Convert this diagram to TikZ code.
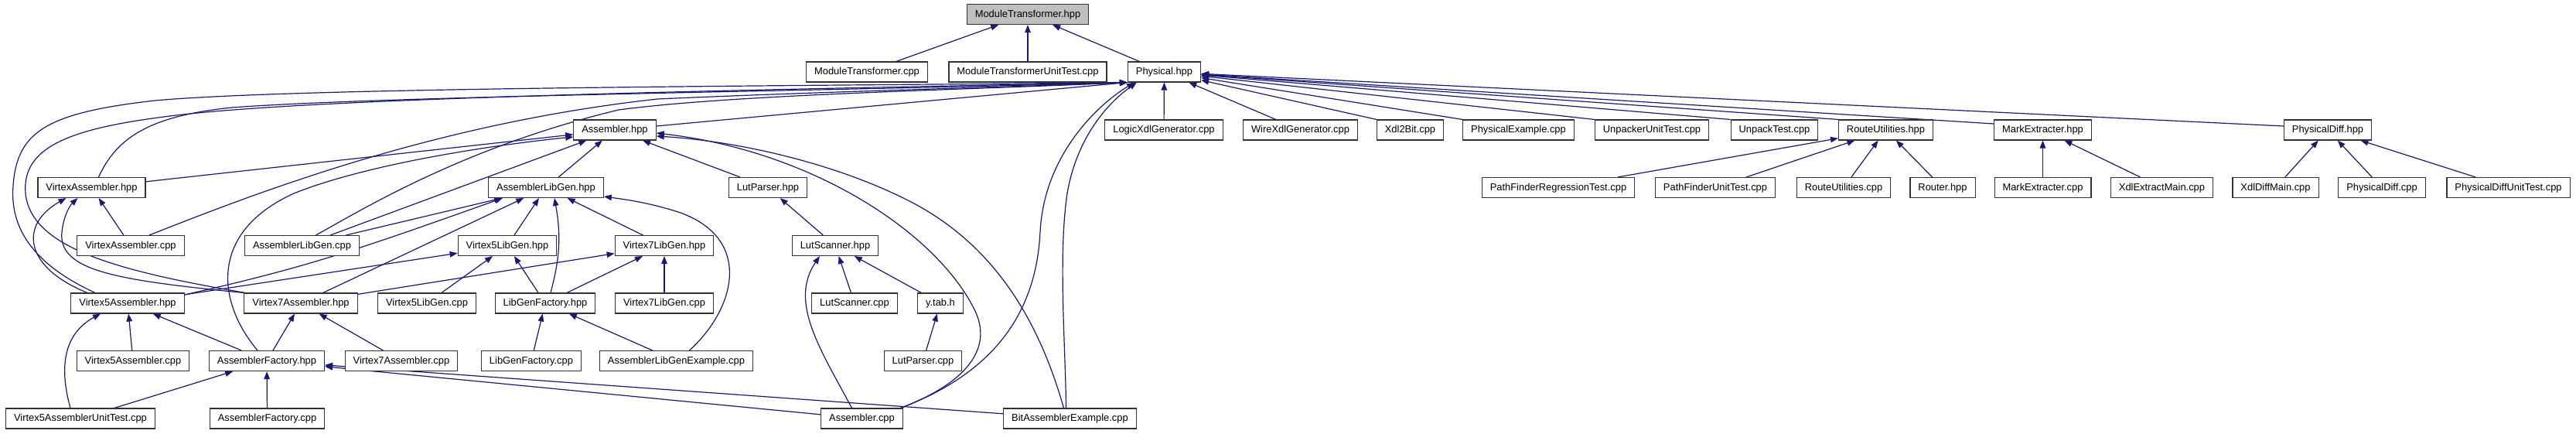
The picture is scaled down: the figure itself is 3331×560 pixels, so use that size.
\documentclass[tikz,border=0pt]{standalone}
\usepackage{fontspec}
\setmainfont{Liberation Sans}
\usepackage{xcolor}
\usetikzlibrary{arrows.meta,backgrounds}
\definecolor{midnightblue}{RGB}{25,25,112}
\tikzset{
  file/.style={draw=black!80, line width=1.1pt, fill=white, inner xsep=10.5pt,
    minimum height=26pt, text height=9.5pt, text depth=2.5pt,
    font=\fontsize{12.9}{15}\selectfont},
  rootfile/.style={file, fill=black!25},
  inc/.style={draw=midnightblue, line width=1.2pt, -{Triangle[length=10pt,width=7.5pt]}}
}
\begin{document}
\begin{tikzpicture}[x=1pt,y=-1pt]
    \useasboundingbox (0,0) rectangle (3331,560);

    % the file boxes, row by row
    \node[rootfile] (mthpp) at (1329,18.5) {ModuleTransformer.hpp};

    \node[file] (mtcpp) at (1121,93) {ModuleTransformer.cpp};
    \node[file] (mtut) at (1329,93) {ModuleTransformerUnitTest.cpp};
    \node[file] (phys) at (1505.5,93) {Physical.hpp};

    \node[file] (asmhpp) at (795,168) {Assembler.hpp};
    \node[file] (logicxdl) at (1505,168) {LogicXdlGenerator.cpp};
    \node[file] (wirexdl) at (1681.5,168) {WireXdlGenerator.cpp};
    \node[file] (xdlbit) at (1823.5,168) {Xdl2Bit.cpp};
    \node[file] (physex) at (1963.5,168) {PhysicalExample.cpp};
    \node[file] (unpackut) at (2136,168) {UnpackerUnitTest.cpp};
    \node[file] (unpacktest) at (2294.5,168) {UnpackTest.cpp};
    \node[file] (routehpp) at (2438.5,168) {RouteUtilities.hpp};
    \node[file] (markhpp) at (2641.5,168) {MarkExtracter.hpp};
    \node[file] (diffhpp) at (3010,168) {PhysicalDiff.hpp};

    \node[file] (vahpp) at (118.5,242.5) {VirtexAssembler.hpp};
    \node[file] (alghpp) at (706,242.5) {AssemblerLibGen.hpp};
    \node[file] (lutphpp) at (993,242.5) {LutParser.hpp};
    \node[file] (pfrt) at (2015,242.5) {PathFinderRegressionTest.cpp};
    \node[file] (pfut) at (2218,242.5) {PathFinderUnitTest.cpp};
    \node[file] (routecpp) at (2384,242.5) {RouteUtilities.cpp};
    \node[file] (router) at (2512,242.5) {Router.hpp};
    \node[file] (markcpp) at (2641.5,242.5) {MarkExtracter.cpp};
    \node[file] (extractmain) at (2795.5,242.5) {XdlExtractMain.cpp};
    \node[file] (diffmain) at (2942.5,242.5) {XdlDiffMain.cpp};
    \node[file] (diffcpp) at (3080,242.5) {PhysicalDiff.cpp};
    \node[file] (diffut) at (3243.5,242.5) {PhysicalDiffUnitTest.cpp};

    \node[file] (vacpp) at (169,317.5) {VirtexAssembler.cpp};
    \node[file] (algcpp) at (390.5,317.5) {AssemblerLibGen.cpp};
    \node[file] (vflghpp) at (656,317.5) {Virtex5LibGen.hpp};
    \node[file] (vslghpp) at (859,317.5) {Virtex7LibGen.hpp};
    \node[file] (lshpp) at (1080,317.5) {LutScanner.hpp};

    \node[file] (vfasm) at (165,392) {Virtex5Assembler.hpp};
    \node[file] (vsasm) at (389,392) {Virtex7Assembler.hpp};
    \node[file] (vflgcpp) at (552,392) {Virtex5LibGen.cpp};
    \node[file] (lgfhpp) at (705,392) {LibGenFactory.hpp};
    \node[file] (vslgcpp) at (859,392) {Virtex7LibGen.cpp};
    \node[file] (lscpp) at (1105,392) {LutScanner.cpp};
    \node[file] (ytab) at (1216,392) {y.tab.h};

    \node[file] (vfasmcpp) at (172,466.5) {Virtex5Assembler.cpp};
    \node[file] (afhpp) at (345,466.5) {AssemblerFactory.hpp};
    \node[file] (vsasmcpp) at (519,466.5) {Virtex7Assembler.cpp};
    \node[file] (lgfcpp) at (687,466.5) {LibGenFactory.cpp};
    \node[file] (algex) at (874.5,466.5) {AssemblerLibGenExample.cpp};
    \node[file] (lutpcpp) at (1193.5,466.5) {LutParser.cpp};

    \node[file] (vfut) at (104,541) {Virtex5AssemblerUnitTest.cpp};
    \node[file] (afcpp) at (345.5,541) {AssemblerFactory.cpp};
    \node[file] (asmcpp) at (1114.5,541) {Assembler.cpp};
    \node[file] (bitasm) at (1383.5,541) {BitAssemblerExample.cpp};

    % the include edges go behind the boxes
    \begin{pgfonlayer}{background}
    % ModuleTransformer.hpp
    \draw[inc] (mtcpp) -- (mthpp);
    \draw[inc] (mtut) -- (mthpp);
    \draw[inc] (phys) -- (mthpp);

    % Physical.hpp, right hand side
    \draw[inc] (logicxdl) -- (phys);
    \draw[inc] (wirexdl) -- (phys);
    \draw[inc] (xdlbit.north west) -- (phys);
    \draw[inc] (physex.north west) -- (phys);
    \draw[inc] (unpackut.north west) -- (phys);
    \draw[inc] (unpacktest.north west) -- (phys);
    \draw[inc] (routehpp.north west) -- (phys);
    \draw[inc] ([yshift=8pt]markhpp.west) -- (phys);
    \draw[inc] ([yshift=5pt]diffhpp.west) -- (phys);
    \draw[inc] ([yshift=5pt]asmhpp.east) -- (phys.south west);

    % Physical.hpp, long curves from the left
    \draw[inc] ([xshift=-42pt]vfasm.north) .. controls (50,345) and (12,300) .. (17,240)
        .. controls (22,170) and (60,146) .. (200,130)
        .. controls (400,112) and (1100,111) .. (phys.south west);
    \draw[inc] ([xshift=-72pt]vsasm.north) .. controls (150,350) and (40,320) .. (33,250)
        .. controls (28,190) and (90,166) .. (220,150)
        .. controls (420,124) and (1100,114) .. (phys.south west);
    \draw[inc] ([xshift=9pt]vahpp.north) .. controls (150,180) and (190,150) .. (300,139)
        .. controls (500,124) and (1100,117) .. (phys.south west);
    \draw[inc] ([xshift=24pt]vacpp.north) .. controls (330,250) and (560,160) .. (850,128)
        .. controls (1100,117) and (1300,113) .. (phys.south west);
    \draw[inc] ([xshift=18pt]algcpp.north) .. controls (470,270) and (600,190) .. (800,142)
        .. controls (950,122) and (1250,116) .. (phys.south west);

    % Physical.hpp, curves from below
    \draw[inc] ([xshift=50pt]asmcpp.north) .. controls (1290,480) and (1340,400) .. (1345,300)
        .. controls (1350,200) and (1420,135) .. ([xshift=9pt]phys.south west);
    \draw[inc] ([xshift=-5pt]bitasm.north) .. controls (1378,450) and (1368,330) .. (1380,250)
        .. controls (1392,180) and (1430,135) .. ([xshift=12pt]phys.south west);

    % Assembler.hpp
    \draw[inc] (vahpp) -- (asmhpp);
    \draw[inc] ([xshift=-12pt]afhpp.north) .. controls (280,390) and (270,300) .. (380,250)
        .. controls (480,210) and (650,186) .. ([yshift=-9pt]asmhpp.west);
    \draw[inc] (algcpp) -- (asmhpp);
    \draw[inc] (alghpp) -- (asmhpp);
    \draw[inc] (lutphpp) -- (asmhpp);
    \draw[inc] ([xshift=50pt]asmcpp.north) .. controls (1250,495) and (1285,450) .. (1260,400)
        .. controls (1210,300) and (1050,195) .. ([yshift=-4pt]asmhpp.east);
    \draw[inc] ([xshift=-8pt]bitasm.north) .. controls (1345,420) and (1290,320) .. (1180,262)
        .. controls (1080,210) and (950,182) .. ([yshift=-8pt]asmhpp.east);

    % VirtexAssembler.hpp
    \draw[inc] (vacpp) -- (vahpp);
    \draw[inc] ([xshift=-52pt]vfasm.north) .. controls (30,345) and (25,290) .. ([xshift=-33pt]vahpp.south);
    \draw[inc] ([xshift=-74pt]vsasm.north) .. controls (150,362) and (75,350) .. (80,300)
        .. controls (82,280) and (90,266) .. ([xshift=-18pt]vahpp.south);

    % AssemblerLibGen.hpp
    \draw[inc] (algcpp) -- (alghpp);
    \draw[inc] ([yshift=11pt]vfasm.east) .. controls (400,345) and (470,320) .. ([xshift=-56pt]alghpp.south);
    \draw[inc] (vsasm) -- (alghpp);
    \draw[inc] (vflghpp) -- (alghpp);
    \draw[inc] ([xshift=7pt]lgfhpp.north) to[out=75,in=-80] ([xshift=11pt]alghpp.south);
    \draw[inc] (vslghpp) -- (alghpp);
    \draw[inc] ([xshift=17pt]algex.north) .. controls (950,400) and (975,310) .. (880,275)
        .. controls (840,262) and (810,258) .. ([yshift=2pt]alghpp.south east);

    % LutParser.hpp, LutScanner.hpp, y.tab.h
    \draw[inc] (lshpp) -- (lutphpp);
    \draw[inc] (lscpp) -- (lshpp);
    \draw[inc] (ytab) -- (lshpp);
    \draw[inc] ([xshift=-13pt]asmcpp.north) .. controls (1060,450) and (1020,390) .. ([xshift=-20pt]lshpp.south);
    \draw[inc] (lutpcpp) -- (ytab);

    % Virtex5LibGen.hpp and Virtex7LibGen.hpp
    \draw[inc] (vfasm) -- (vflghpp);
    \draw[inc] (vflgcpp) -- (vflghpp);
    \draw[inc] (lgfhpp) -- (vflghpp);
    \draw[inc] (vsasm) -- (vslghpp);
    \draw[inc] (lgfhpp) -- (vslghpp);
    \draw[inc] (vslgcpp) -- (vslghpp);

    % Virtex5Assembler.hpp and Virtex7Assembler.hpp
    \draw[inc] (vfasmcpp) -- (vfasm);
    \draw[inc] (afhpp) -- (vfasm);
    \draw[inc] ([xshift=-13pt]vfut.north) .. controls (75,470) and (85,430) .. ([xshift=-35pt]vfasm.south);
    \draw[inc] (afhpp) -- (vsasm);
    \draw[inc] (vsasmcpp) -- (vsasm);

    % AssemblerFactory.hpp and LibGenFactory.hpp
    \draw[inc] (vfut) -- (afhpp);
    \draw[inc] (afcpp) -- (afhpp);
    \draw[inc] (asmcpp) -- (afhpp);
    \draw[inc] (bitasm) -- (afhpp);
    \draw[inc] (lgfcpp) -- (lgfhpp);
    \draw[inc] (algex) -- (lgfhpp);

    % RouteUtilities.hpp, MarkExtracter.hpp, PhysicalDiff.hpp
    \draw[inc] (pfrt) -- (routehpp);
    \draw[inc] (pfut) -- (routehpp);
    \draw[inc] (routecpp) -- (routehpp);
    \draw[inc] (router) -- (routehpp);
    \draw[inc] (markcpp) -- (markhpp);
    \draw[inc] (extractmain) -- (markhpp);
    \draw[inc] (diffmain) -- (diffhpp);
    \draw[inc] (diffcpp) -- (diffhpp);
    \draw[inc] (diffut) -- (diffhpp);
    \end{pgfonlayer}
\end{tikzpicture}
\end{document}
